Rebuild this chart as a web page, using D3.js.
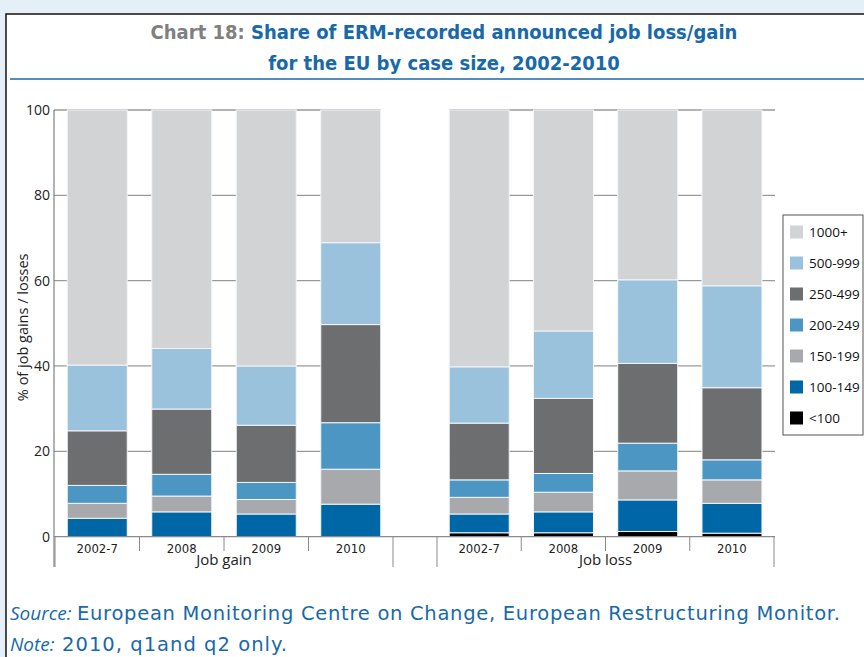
<!DOCTYPE html>
<html>
<head>
<meta charset="utf-8">
<script src="https://cdn.jsdelivr.net/npm/d3@7"></script>
<style>
  body { margin: 0; background: #e4eff7; overflow: hidden; }
  svg { display: block; }
</style>
</head>
<body>
<div id="chart"></div>
<script>
// Data (shares in %): 4 job gain columns, then 4 job loss columns
const years = ['2002-7', '2008', '2009', '2010']
const groups = ['Job gain', 'Job loss']
const sizeClasses = ['<100', '100-149', '150-199', '200-249', '250-499', '500-999', '1000+']
const under100 = [0, 0, 0, 0, 0.9, 0.9, 1.2, 0.8]
const s100to149 = [4.3, 5.8, 5.3, 7.6, 4.4, 4.9, 7.4, 7.0]
const s150to199 = [3.5, 3.7, 3.4, 8.2, 3.9, 4.6, 6.8, 5.5]
const s200to249 = [4.2, 5.1, 4.0, 10.9, 4.1, 4.4, 6.5, 4.7]
const s250to499 = [12.8, 15.3, 13.4, 23.0, 13.3, 17.6, 18.7, 16.9]
const s500to999 = [15.4, 14.2, 13.9, 19.2, 13.2, 15.8, 19.6, 23.9]
const s1000plus = [59.8, 55.9, 60.0, 31.1, 60.2, 51.8, 39.8, 41.2]
const yTicks = [0, 20, 40, 60, 80, 100]

const series = [under100, s100to149, s150to199, s200to249, s250to499, s500to999, s1000plus]
const colors = ['#000000', '#0067a6', '#a7a9ac', '#4c96c4', '#6d6e70', '#9ac2dc', '#d1d3d4']

const W = 864, H = 657
const blue = '#1769aa'
const condensed = '"DejaVu Sans Condensed", "Liberation Sans Narrow", sans-serif'
const plain = '"Open Sans", "Noto Sans", sans-serif'
const wide = '"DejaVu Sans", "Open Sans", sans-serif'

const svg = d3.select('#chart').append('svg')
    .attr('width', W).attr('height', H)

// white panel with black frame
svg.append('rect')
    .attr('x', 6).attr('y', 14).attr('width', W).attr('height', H)
    .attr('fill', '#fff').attr('stroke', '#111').attr('stroke-width', 1.5)

// Title
const title = svg.append('g').attr('font-family', condensed).attr('font-weight', 'bold')
    .attr('font-size', 20).attr('text-anchor', 'middle')
const t1 = title.append('text').attr('x', 444).attr('y', 39)
t1.append('tspan').attr('fill', '#7f7f7f').text('Chart 18: ')
t1.append('tspan').attr('fill', blue).text('Share of ERM-recorded announced job loss/gain')
title.append('text').attr('x', 444).attr('y', 70).attr('fill', blue)
    .text('for the EU by case size, 2002-2010')

svg.append('line')
    .attr('x1', 10).attr('x2', W).attr('y1', 79).attr('y2', 79)
    .attr('stroke', blue).attr('stroke-width', 1.5)

// Scales
const y = d3.scaleLinear().domain([0, 100]).range([536.6, 110])
const xGain = d3.scaleBand().domain(years).range([55, 393]).paddingInner(0.29).paddingOuter(0.145)
const xLoss = d3.scaleBand().domain(years).range([437, 774]).paddingInner(0.29).paddingOuter(0.145)
const xScales = [xGain, xLoss]

// Grid lines (two segments, one per group)
const grid = svg.append('g').attr('stroke', '#9a9a9a').attr('stroke-width', 1.3)
yTicks.filter(d => d > 0).forEach(t => {
  grid.append('line')
      .attr('x1', 54).attr('x2', xGain(years[3]) + xGain.bandwidth())
      .attr('y1', y(t)).attr('y2', y(t))
  grid.append('line')
      .attr('x1', xLoss(years[0])).attr('x2', 775)
      .attr('y1', y(t)).attr('y2', y(t))
})

// Y axis
const yAxis = svg.append('g')
    .attr('transform', 'translate(54,0)')
    .call(d3.axisLeft(y).tickValues(yTicks).tickSize(0).tickPadding(4))
yAxis.select('.domain').remove()
yAxis.selectAll('text').attr('font-family', plain).attr('font-size', 14).attr('fill', '#222')
svg.append('line')
    .attr('x1', 54).attr('x2', 54).attr('y1', y(100)).attr('y2', 567)
    .attr('stroke', '#666').attr('stroke-width', 1)

svg.append('text')
    .attr('transform', `translate(28,${(y(0) + y(100)) / 2 + 4}) rotate(-90)`)
    .attr('text-anchor', 'middle')
    .attr('font-family', plain).attr('font-size', 14.5).attr('fill', '#222')
    .text('% of job gains / losses')

// Bars
const rows = []
groups.forEach((g, gi) => years.forEach((yr, yi) => {
  const row = { group: gi, year: yr }
  sizeClasses.forEach((s, si) => { row[s] = series[si][gi * 4 + yi] })
  rows.push(row)
}))
const stacked = d3.stack().keys(sizeClasses)(rows)

svg.append('g').selectAll('g')
    .data(stacked).enter()
    .append('g')
    .attr('fill', (d, i) => colors[i])
    .selectAll('rect')
    .data(d => d.filter(p => p[1] - p[0] > 0)).enter()
    .append('rect')
    .attr('x', d => xScales[d.data.group](d.data.year))
    .attr('width', xGain.bandwidth())
    .attr('y', d => y(d[1]))
    .attr('height', d => y(d[0]) - y(d[1]))
    .attr('stroke', '#f2f6f8').attr('stroke-width', 1)

// X axis
const xAx = svg.append('g')
xAx.append('line')
    .attr('x1', 54).attr('x2', 775).attr('y1', y(0)).attr('y2', y(0))
    .attr('stroke', '#8a8a8a').attr('stroke-width', 1.2)

xScales.forEach((xs, gi) => {
  const r = xs.range()
  const step = xs.step()
  // boundaries between categories
  years.forEach((yr, i) => {
    const bx = r[0] + i * step
    xAx.append('line')
        .attr('x1', bx).attr('x2', bx).attr('y1', y(0))
        .attr('y2', i === 0 ? 567 : 551)
        .attr('stroke', '#8a8a8a').attr('stroke-width', 1)
    xAx.append('text')
        .attr('x', xs(yr) + xs.bandwidth() / 2).attr('y', 553)
        .attr('text-anchor', 'middle')
        .attr('font-family', condensed).attr('font-size', 13).attr('fill', '#222')
        .text(yr)
  })
  xAx.append('line')
      .attr('x1', r[1]).attr('x2', r[1]).attr('y1', y(0)).attr('y2', 567)
      .attr('stroke', '#8a8a8a').attr('stroke-width', 1)
  xAx.append('text')
      .attr('x', (r[0] + r[1]) / 2).attr('y', 565)
      .attr('text-anchor', 'middle')
      .attr('font-family', plain).attr('font-size', 15).attr('fill', '#222')
      .text(groups[gi])
})

// Legend
const legend = svg.append('g')
legend.append('rect')
    .attr('x', 783).attr('y', 215).attr('width', 80).attr('height', 220)
    .attr('fill', '#fff').attr('stroke', '#555').attr('stroke-width', 1)
const legendOrder = sizeClasses.slice().reverse()
legendOrder.forEach((s, i) => {
  const ly = 232 + i * 31.0
  legend.append('rect')
      .attr('x', 790).attr('y', ly - 6.5).attr('width', 13).attr('height', 13)
      .attr('fill', colors[sizeClasses.indexOf(s)])
  legend.append('text')
      .attr('x', 809).attr('y', ly + 5)
      .attr('font-family', plain).attr('font-size', 13.5).attr('fill', '#111')
      .text(s)
})

// Source and note
const src = svg.append('g').attr('fill', blue)
src.append('text').attr('x', 10).attr('y', 620)
    .attr('font-family', plain).attr('font-size', 19)
    .attr('font-style', 'italic').text('Source:')
src.append('text').attr('x', 77).attr('y', 620)
    .attr('font-family', wide).attr('font-size', 19.5)
    .attr('textLength', 763).attr('lengthAdjust', 'spacing')
    .text('European Monitoring Centre on Change, European Restructuring Monitor.')
src.append('text').attr('x', 10).attr('y', 651)
    .attr('font-family', plain).attr('font-size', 19)
    .attr('font-style', 'italic').text('Note:')
src.append('text').attr('x', 62).attr('y', 651)
    .attr('font-family', wide).attr('font-size', 19.5)
    .attr('textLength', 225).attr('lengthAdjust', 'spacing')
    .text('2010, q1and q2 only.')
</script>
</body>
</html>
